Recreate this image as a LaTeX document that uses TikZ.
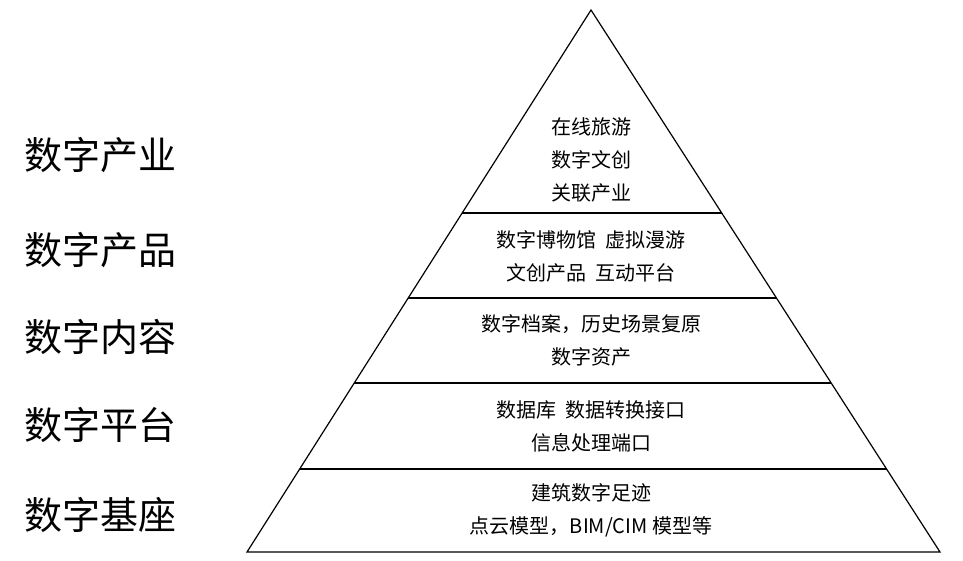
\documentclass[tikz,border=0pt]{standalone}
\usepackage{fontspec}
\setmainfont{Noto Sans CJK SC}
\begin{document}
\begin{tikzpicture}[x=1pt,y=-1pt,
  lvl/.style={font=\fontsize{38}{44}\selectfont,anchor=west,inner sep=0},
  inn/.style={font=\fontsize{20}{33}\selectfont,align=center,inner sep=0}]
\useasboundingbox (0,0) rectangle (963,561);
\coordinate (A) at (591,10);
\coordinate (L) at (247,552);
\coordinate (R) at (940,552);
\draw[line width=1.2pt,line join=miter] (A) -- (L) -- (R) -- cycle;
\foreach \y in {213,298,383,469}{
  \draw[line width=1.2pt] ({591-0.6347*(\y-10)},\y) -- ({591+0.6439*(\y-10)},\y);
}
\node[lvl] (l1) at (24,155) {数字产业};
\node[lvl] (l2) at (24,250) {数字产品};
\node[lvl] (l3) at (24,337) {数字内容};
\node[lvl] (l4) at (24,425) {数字平台};
\node[lvl] (l5) at (24,515) {数字基座};
\node[inn] (t1) at (591,160) {在线旅游\\数字文创\\关联产业};
\node[inn] (t2) at (591,256) {数字博物馆\ \ 虚拟漫游\\文创产品\ \ 互动平台};
\node[inn] (t3) at (591,340) {数字档案，历史场景复原\\数字资产};
\node[inn] (t4) at (591,426) {数据库\ \ 数据转换接口\\信息处理端口};
\node[inn] (t5) at (591,510) {建筑数字足迹\\点云模型，BIM/CIM 模型等};
\end{tikzpicture}
\end{document}
